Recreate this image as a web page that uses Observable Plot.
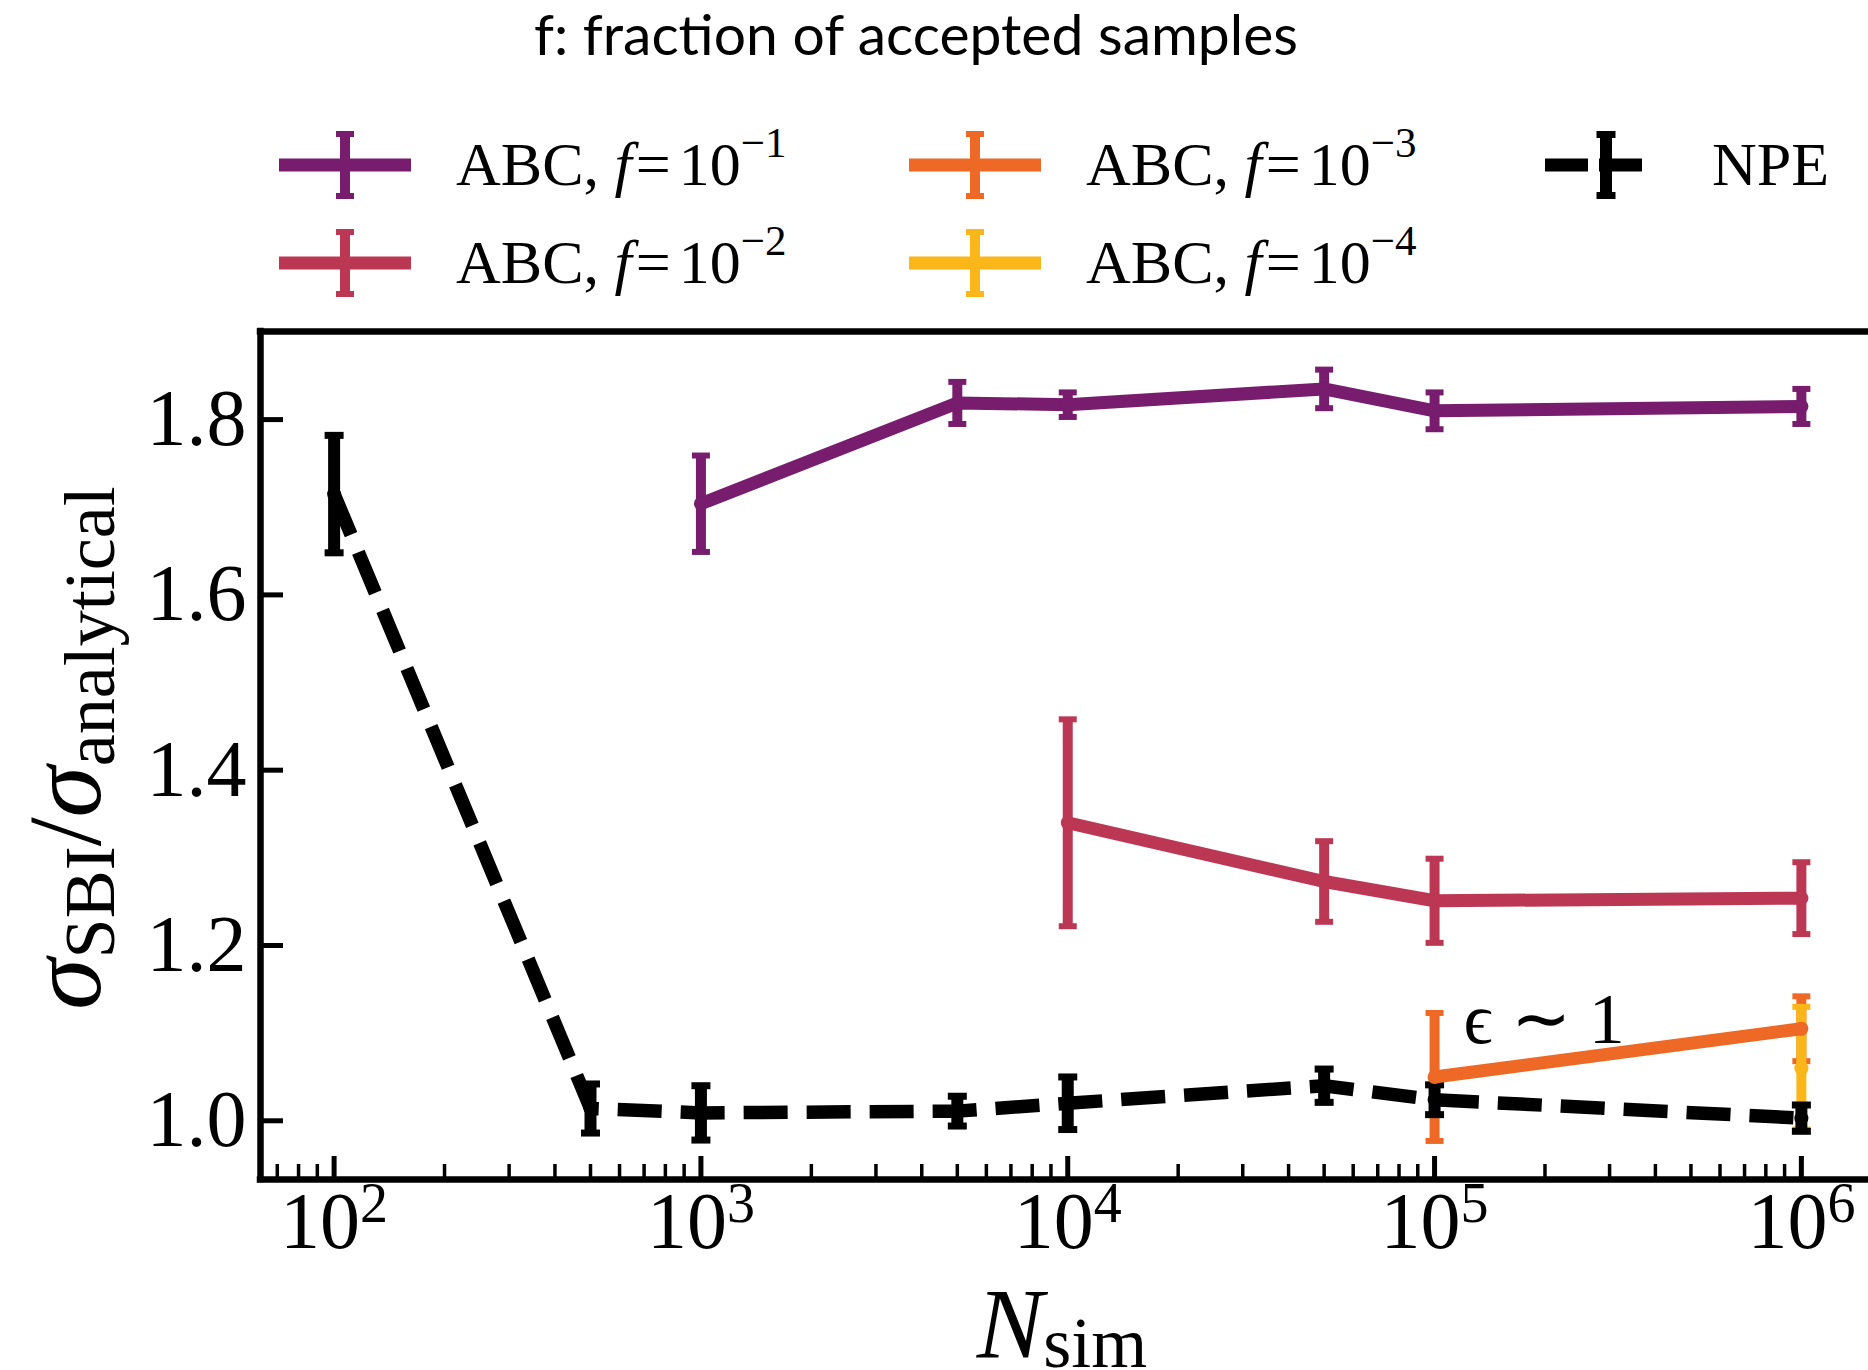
<!DOCTYPE html>
<html>
<head>
<meta charset="utf-8">
<script src="https://cdn.jsdelivr.net/npm/d3@7"></script>
<script src="https://cdn.jsdelivr.net/npm/@observablehq/plot@0.6"></script>
<style>
html, body { margin: 0; padding: 0; background: #fff; }
#chart svg { display: block; }
</style>
</head>
<body>
<div id="chart"></div>
<script>
// ---------------- data ----------------
const npeNsim   = [100, 500, 1000, 5000, 10000, 50000, 100000, 1000000];
const npeValues = [1.715, 1.014, 1.009, 1.011, 1.020, 1.040, 1.024, 1.003];
const npeErrors = [0.067, 0.028, 0.031, 0.017, 0.030, 0.019, 0.017, 0.015];

const abc1Nsim   = [1000, 5000, 10000, 50000, 100000, 1000000];
const abc1Values = [1.704, 1.819, 1.817, 1.835, 1.810, 1.815];
const abc1Errors = [0.055, 0.024, 0.014, 0.022, 0.021, 0.020];

const abc2Nsim   = [10000, 50000, 100000, 1000000];
const abc2Values = [1.340, 1.273, 1.251, 1.254];
const abc2Errors = [0.118, 0.046, 0.048, 0.041];

const abc3Nsim   = [100000, 1000000];
const abc3Values = [1.050, 1.105];
const abc3Errors = [0.073, 0.037];

const abc4Nsim   = [1000000];
const abc4Values = [1.060];
const abc4Errors = [0.070];

const abcExponents = ["−1", "−2", "−3", "−4"];
const abcColors    = ["#781c6d", "#bc3754", "#ed6925", "#fbb61a"];
const npeLabel     = "NPE";
const titleText    = "f: fraction of accepted samples";

const yTicks          = [1.0, 1.2, 1.4, 1.6, 1.8];
const xMajorTicks     = [1e2, 1e3, 1e4, 1e5, 1e6];
const xTickExponents  = ["2", "3", "4", "5", "6"];
const xMinorMultiples = [2, 3, 4, 5, 6, 7, 8, 9];
const xMinorDecades   = [10, 100, 1000, 10000, 100000];

const annotations = [{x: 1.2e5, y: 1.089, label: "ϵ ∼ 1"}];

// ---------------- layout ----------------
const W = 1868, H = 1370;
const mL = 260, mT = 331, mB = 191, mR = 0;
const frameW = W - mL - mR, frameH = H - mT - mB;
const xDomain = [63.0, 1.524e6];
const yDomain = [0.933, 1.9005];
const serif = "'Liberation Serif', 'Times New Roman', Times, serif";

const xMinorTicks = xMinorDecades.flatMap(d => xMinorMultiples.map(m => m * d))
  .filter(v => v > xDomain[0] && v < xDomain[1]);

const toRows = (xs, ys, es) => xs.map((x, i) => ({x, y: ys[i], e: es[i]}));
const npe = toRows(npeNsim, npeValues, npeErrors);
const abcSeries = [
  toRows(abc1Nsim, abc1Values, abc1Errors),
  toRows(abc2Nsim, abc2Values, abc2Errors),
  toRows(abc3Nsim, abc3Values, abc3Errors),
  toRows(abc4Nsim, abc4Values, abc4Errors)
];

// custom symbol for error-bar caps (a short horizontal bar)
const capSymbol = (h) => ({
  draw(context, size) {
    const w = Math.sqrt(size / Math.PI);
    context.moveTo(-w, -h / 2);
    context.lineTo(w, -h / 2);
    context.lineTo(w, h / 2);
    context.lineTo(-w, h / 2);
    context.closePath();
  }
});

const marks = [];
// error bars (drawn beneath the data lines)
abcSeries.forEach((rows, i) => {
  marks.push(Plot.ruleX(rows, {x: "x", y1: d => d.y - d.e, y2: d => d.y + d.e, stroke: abcColors[i], strokeWidth: 10}));
  marks.push(Plot.dot(rows, {x: "x", y: d => d.y + d.e, symbol: capSymbol(6), r: 9, fill: abcColors[i]}));
  marks.push(Plot.dot(rows, {x: "x", y: d => d.y - d.e, symbol: capSymbol(6), r: 9, fill: abcColors[i]}));
});
marks.push(Plot.ruleX(npe, {x: "x", y1: d => d.y - d.e, y2: d => d.y + d.e, stroke: "#000", strokeWidth: 12}));
marks.push(Plot.dot(npe, {x: "x", y: d => d.y + d.e, symbol: capSymbol(7), r: 9.5, fill: "#000"}));
marks.push(Plot.dot(npe, {x: "x", y: d => d.y - d.e, symbol: capSymbol(7), r: 9.5, fill: "#000"}));
// data lines
abcSeries.forEach((rows, i) => {
  marks.push(Plot.line(rows, {x: "x", y: "y", stroke: abcColors[i], strokeWidth: 13, strokeLinejoin: "round", strokeLinecap: "butt"}));
  marks.push(Plot.dot(rows, {x: "x", y: "y", r: 7, fill: abcColors[i]}));
});
marks.push(Plot.line(npe, {x: "x", y: "y", stroke: "#000", strokeWidth: 13.5, strokeDasharray: "44,19", strokeLinejoin: "round", strokeLinecap: "butt"}));
marks.push(Plot.dot(npe, {x: "x", y: "y", r: 7, fill: "#000"}));
// annotation
marks.push(Plot.text(annotations, {x: "x", y: "y", text: "label", textAnchor: "start", lineAnchor: "bottom", fontSize: 72, fontFamily: serif, fill: "#000"}));
// ticks (inward)
marks.push(Plot.tickX(xMinorTicks, {x: d => d, insetTop: frameH - 15, strokeWidth: 3.5, stroke: "#000"}));
marks.push(Plot.tickX(xMajorTicks, {x: d => d, insetTop: frameH - 23, strokeWidth: 5, stroke: "#000"}));
marks.push(Plot.tickY(yTicks, {y: d => d, insetRight: frameW - 23, strokeWidth: 5, stroke: "#000"}));
// spines (left, bottom, top)
marks.push(Plot.ruleX([xDomain[0]], {strokeWidth: 6.5, stroke: "#000", strokeLinecap: "square"}));
marks.push(Plot.ruleY([yDomain[0], yDomain[1]], {strokeWidth: 6.5, stroke: "#000", strokeLinecap: "square"}));
// tick labels
marks.push(Plot.text(yTicks, {y: d => d, frameAnchor: "left", text: d => d.toFixed(1), textAnchor: "end", lineAnchor: "middle", dx: -14, fontSize: 80, fontFamily: serif, fill: "#000"}));
marks.push(Plot.text(xMajorTicks, {x: d => d, frameAnchor: "bottom", text: () => "10", textAnchor: "middle", lineAnchor: "top", dy: 12, fontSize: 80, fontFamily: serif, fill: "#000"}));

const svg = Plot.plot({
  width: W, height: H,
  marginLeft: mL, marginRight: mR, marginTop: mT, marginBottom: mB,
  style: {background: "#fff", overflow: "visible"},
  x: {type: "log", domain: xDomain, axis: null},
  y: {type: "linear", domain: yDomain, axis: null},
  marks
});
document.getElementById("chart").appendChild(svg);

const sel = d3.select(svg);

// superscripts on x tick labels
let k = 0;
sel.selectAll("text").filter(function() { return this.textContent === "10"; }).each(function() {
  d3.select(this).append("tspan").attr("dy", -26).attr("font-size", 56).text(xTickExponents[k++]);
});

// title
sel.append("text").attr("x", 916).attr("y", 55).attr("text-anchor", "middle")
  .attr("font-family", "Lato, 'Open Sans', sans-serif").attr("font-size", 57).attr("fill", "#000")
  .text(titleText);

// legend
function legendLabel(g, x, y, exp) {
  const t = g.append("text").attr("x", x).attr("y", y).attr("text-anchor", "start")
    .attr("font-family", serif).attr("font-size", 62).attr("fill", "#000");
  t.append("tspan").text("ABC, ");
  t.append("tspan").attr("font-style", "italic").text("f");
  t.append("tspan").attr("dx", 4).text("=");
  t.append("tspan").attr("dx", 8).text("10");
  t.append("tspan").attr("dy", -28).attr("font-size", 43).text(exp);
}
const leg = sel.append("g");
const legCols = [279, 909];
const legRows = [165, 263];
abcColors.forEach((c, i) => {
  const x0 = legCols[Math.floor(i / 2)], y0 = legRows[i % 2];
  const cx = x0 + 66;
  leg.append("line").attr("x1", x0).attr("x2", x0 + 132).attr("y1", y0).attr("y2", y0).attr("stroke", c).attr("stroke-width", 13);
  leg.append("line").attr("x1", cx).attr("x2", cx).attr("y1", y0 - 31).attr("y2", y0 + 31).attr("stroke", c).attr("stroke-width", 10);
  leg.append("rect").attr("x", cx - 9).attr("y", y0 - 34).attr("width", 18).attr("height", 6).attr("fill", c);
  leg.append("rect").attr("x", cx - 9).attr("y", y0 + 28).attr("width", 18).attr("height", 6).attr("fill", c);
  legendLabel(leg, x0 + 177, y0 + 20, abcExponents[i]);
});
{
  const y0 = 165, cx = 1606;
  leg.append("line").attr("x1", 1545).attr("x2", 1652).attr("y1", y0).attr("y2", y0).attr("stroke", "#000").attr("stroke-width", 13).attr("stroke-dasharray", "43,11");
  leg.append("line").attr("x1", cx).attr("x2", cx).attr("y1", y0 - 31).attr("y2", y0 + 31).attr("stroke", "#000").attr("stroke-width", 12);
  leg.append("rect").attr("x", cx - 9.5).attr("y", y0 - 34).attr("width", 19).attr("height", 7).attr("fill", "#000");
  leg.append("rect").attr("x", cx - 9.5).attr("y", y0 + 27).attr("width", 19).attr("height", 7).attr("fill", "#000");
  leg.append("text").attr("x", 1712).attr("y", y0 + 20).attr("text-anchor", "start")
    .attr("font-family", serif).attr("font-size", 62).attr("fill", "#000").text(npeLabel);
}

// axis labels
const xl = sel.append("text").attr("x", 1062).attr("y", 1357).attr("text-anchor", "middle")
  .attr("font-family", serif).attr("fill", "#000");
xl.append("tspan").attr("font-size", 100).attr("font-style", "italic").text("N");
xl.append("tspan").attr("font-size", 72).attr("dy", 10).text("sim");

const yl = sel.append("text").attr("transform", "translate(100,748) rotate(-90)").attr("text-anchor", "middle")
  .attr("font-family", serif).attr("fill", "#000");
yl.append("tspan").attr("font-size", 104).attr("font-style", "italic").text("σ");
yl.append("tspan").attr("font-size", 72).attr("dy", 14).text("SBI");
yl.append("tspan").attr("font-size", 104).attr("dy", -14).text("/");
yl.append("tspan").attr("font-size", 104).attr("font-style", "italic").text("σ");
yl.append("tspan").attr("font-size", 72).attr("dy", 14).text("analytical");
</script>
</body>
</html>
